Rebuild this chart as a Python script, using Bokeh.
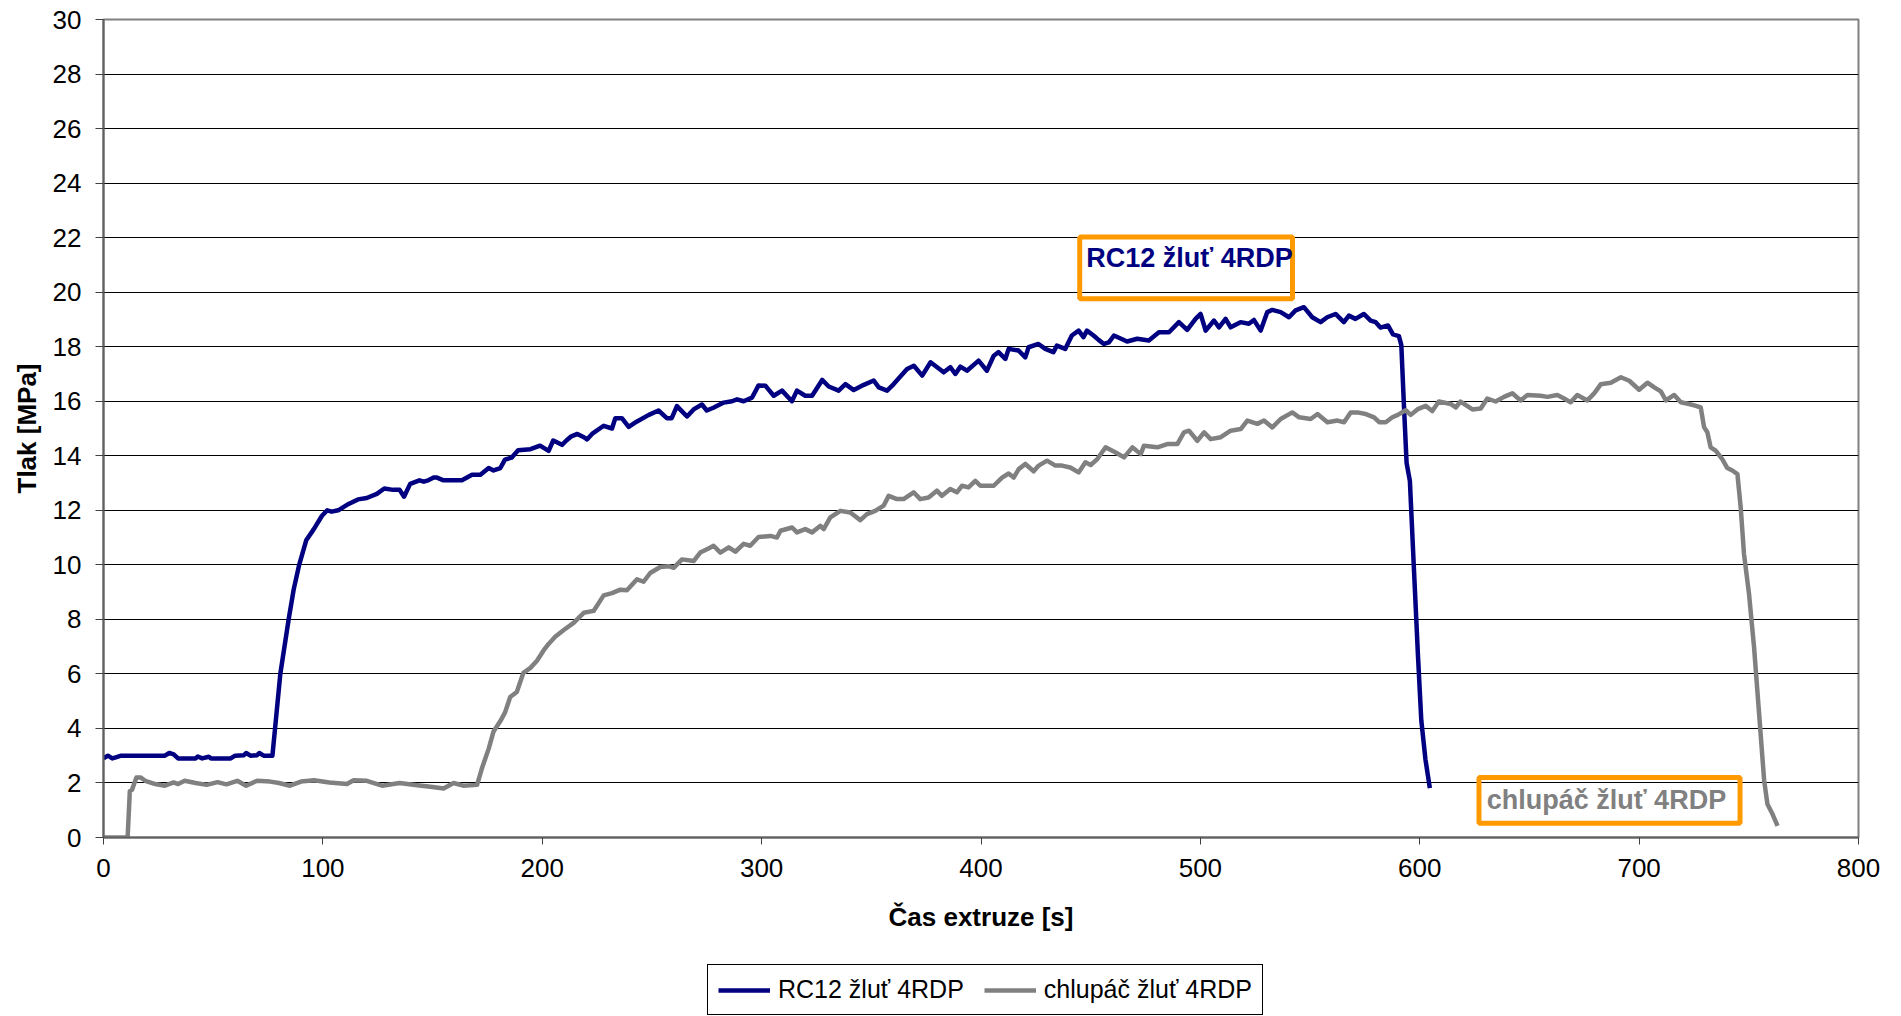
from bokeh.plotting import figure
from bokeh.layouts import column
from bokeh.models import (ColumnDataSource, Legend, LegendItem, BoxAnnotation, Label,
                          FixedTicker, Range1d)
from bokeh.embed import file_html
from bokeh.resources import INLINE

# ---------------- data ----------------
rc12_t = [0, 2, 4, 6, 8, 28, 30, 32, 34, 42, 43, 45, 48, 49, 58, 60, 64, 65, 67, 70, 71, 73, 77,
          80.6, 84.4, 86.7, 89.2, 92.4, 95.8, 99.6, 102, 104, 107, 111, 116, 120, 124.6, 128, 132, 135,
          137, 139.8, 144, 146, 148, 150.5, 152, 155, 163.4, 168, 171.8, 175.6, 177.8, 180.9, 183, 186,
          189, 194.6, 199, 202.9, 205, 209, 211, 213, 216, 219, 220.4, 222.7, 228, 231.8, 233.3, 236.3,
          239.4, 243, 248.6, 253, 256.8, 259, 261.4, 263.7, 266, 269, 272.8, 275, 278, 282.7, 286.5,
          288.8, 291.8, 295.6, 298.6, 301.7, 305.5, 309.3, 313.8, 316.1, 319.9, 323, 327.6, 330.6,
          335.1, 338.2, 342, 346.6, 351.1, 353.4, 357.2, 360.2, 366.3, 369.4, 373.2, 377, 383, 386,
          388.3, 390.6, 393.6, 398.9, 402.7, 405.8, 408, 411.1, 412.6, 417.1, 420.2, 421.7, 426.2,
          429.3, 433, 434.6, 438.4, 441.4, 444.5, 446.7, 448.3, 451.3, 453.6, 456, 458.3, 460.6, 466.6,
          471.2, 476.5, 481.1, 485.7, 490.2, 494, 497.8, 500.1, 502.4, 506.2, 508.5, 511.5, 513.8,
          518.3, 522.1, 524.4, 527.5, 530.5, 532.8, 536.6, 540.4, 543.4, 547.2, 551, 554.8, 557.8,
          561.6, 565.4, 567.7, 570.7, 574.5, 577.6, 579.9, 582.1, 585.5, 587.8, 590.5, 591.6, 592.8,
          594, 595.5, 597.3, 599.2, 600.7, 602.6, 604.6]
rc12_p = [2.9, 3.0, 2.9, 2.95, 3.0, 3.0, 3.1, 3.05, 2.9, 2.9, 2.97, 2.9, 2.96, 2.9, 2.9, 3.0, 3.02, 3.1,
          3.0, 3.02, 3.1, 3.0, 3.0,
          6.0, 8.0, 9.1, 10.0, 10.9, 11.3, 11.8, 12.0, 11.95, 12.0, 12.2, 12.4, 12.45, 12.6, 12.8, 12.75,
          12.75, 12.5, 12.97, 13.1, 13.05, 13.1, 13.2, 13.2, 13.1, 13.1, 13.3, 13.3, 13.55, 13.46, 13.55,
          13.86, 13.93, 14.2, 14.24, 14.37, 14.18, 14.56, 14.4, 14.56, 14.7, 14.8, 14.68, 14.6, 14.8,
          15.1, 15.0, 15.38, 15.38, 15.06, 15.25, 15.5, 15.66, 15.38, 15.38, 15.82, 15.63, 15.44, 15.7,
          15.88, 15.66, 15.76, 15.95, 16.0, 16.07, 16.0, 16.13, 16.58, 16.57, 16.2, 16.39, 16.0, 16.39,
          16.2, 16.2, 16.78, 16.54, 16.39, 16.63, 16.41, 16.6, 16.76, 16.51, 16.39, 16.63, 17.18, 17.3,
          16.94, 17.43, 17.06, 17.25, 17.0, 17.27, 17.12, 17.49, 17.12, 17.67, 17.8, 17.55, 17.92,
          17.86, 17.61, 17.98, 18.1, 17.92, 17.8, 18.04, 17.92, 18.41, 18.59, 18.35, 18.59, 18.41,
          18.25, 18.1, 18.16, 18.41, 18.19, 18.29, 18.23, 18.53, 18.53, 18.9, 18.62, 19.02, 19.2, 18.59,
          18.96, 18.71, 19.02, 18.71, 18.9, 18.84, 18.98, 18.59, 19.27, 19.35, 19.27, 19.08, 19.33,
          19.45, 19.08, 18.9, 19.08, 19.2, 18.9, 19.14, 19.02, 19.2, 18.96, 18.9, 18.7, 18.78, 18.45,
          18.39, 18.06, 15.83, 13.74, 13.08, 9.93, 6.65, 4.3, 2.86, 1.81]

chl_t = [0, 11, 12, 13, 15, 17, 19, 23.6, 28, 32, 34, 37, 42, 47, 52, 56, 61, 65, 70, 76, 80, 85, 90,
         96, 103, 111, 114, 120, 127, 135, 143, 150, 155, 159.6, 164, 170.3, 172.6, 175.6, 177.8,
         180.9, 183, 185.4, 188.4, 191.4, 194.6, 197.6, 200.6, 202.9, 205.9, 209.8, 214.3, 218.9,
         223.4, 228, 231.8, 235.6, 238.6, 243.2, 246.2, 249.2, 253.8, 257.6, 259.9, 263.7, 269, 272,
         275.8, 278.1, 281.2, 285, 288, 291.8, 294.8, 298.6, 304, 307, 308.6, 313.9, 316.1, 319.9,
         323, 326.8, 328.3, 331.3, 335.9, 340.4, 345, 348, 351.8, 355.6, 357.9, 361.7, 364.7, 369.3,
         372.3, 376.1, 379.9, 382.2, 386, 389, 391.3, 394.3, 397.4, 399.7, 405.8, 409.6, 412.6, 414.9,
         417.2, 420.2, 424, 426.3, 430.1, 433.9, 436.9, 440.7, 444.5, 447.6, 450, 453, 456.8, 461.4,
         465.2, 469, 472.8, 474.3, 480.4, 484.9, 489.5, 492.5, 494.8, 498.6, 501.7, 504.7, 509.3,
         513.8, 518.4, 521.4, 526, 529, 532.8, 536.6, 541.9, 545, 550.3, 553.4, 557.9, 562.5, 565.5,
         568.5, 571.6, 575.4, 579.2, 581.5, 584.5, 587.5, 590, 593.6, 595.9, 598.9, 602.7, 605.7,
         608.7, 614.1, 616.4, 618.6, 624, 627.8, 630.8, 634.6, 638.4, 642.2, 646, 649.1, 655.1, 658.2,
         662.7, 665.8, 668.8, 671.8, 676.4, 679.5, 682.5, 687.1, 691.7, 695.5, 700, 703.8, 706.9,
         709.9, 712.2, 716, 719, 722.8, 725.9, 728.1, 729.6, 731.1, 732.6, 734.9, 737.9, 740.2, 742.5,
         744.8, 746.3, 747.8, 750.1, 752.4, 754.7, 757, 758.5, 760.8, 763.1]
chl_p = [0, 0, 1.7, 1.75, 2.2, 2.2, 2.08, 1.96, 1.9, 2.02, 1.96, 2.08, 2.0, 1.93, 2.03, 1.95, 2.08, 1.9,
         2.08, 2.05, 2.0, 1.9, 2.05, 2.1, 2.02, 1.96, 2.1, 2.08, 1.9, 2.0, 1.92, 1.85, 1.8, 2.0, 1.9,
         1.93, 2.56, 3.26, 3.89, 4.27, 4.58, 5.15, 5.34, 6.04, 6.22, 6.48, 6.86, 7.1, 7.36, 7.61, 7.87,
         8.24, 8.31, 8.88, 8.96, 9.09, 9.07, 9.47, 9.38, 9.7, 9.92, 9.95, 9.89, 10.2, 10.14, 10.45,
         10.6, 10.7, 10.45, 10.64, 10.48, 10.77, 10.7, 11.02, 11.06, 11.0, 11.25, 11.37, 11.19, 11.31,
         11.19, 11.43, 11.31, 11.74, 11.98, 11.92, 11.64, 11.86, 11.98, 12.17, 12.53, 12.41, 12.41,
         12.66, 12.41, 12.47, 12.72, 12.53, 12.78, 12.66, 12.9, 12.84, 13.08, 12.9, 12.9, 13.2, 13.35,
         13.2, 13.51, 13.7, 13.43, 13.64, 13.82, 13.64, 13.64, 13.57, 13.39, 13.76, 13.66, 13.88,
         14.31, 14.12, 13.94, 14.31, 14.06, 14.37, 14.31, 14.43, 14.43, 14.86, 14.92, 14.55, 14.86,
         14.61, 14.68, 14.92, 14.98, 15.29, 15.17, 15.29, 15.04, 15.35, 15.59, 15.41, 15.35, 15.53,
         15.23, 15.29, 15.23, 15.59, 15.59, 15.53, 15.41, 15.23, 15.23, 15.41, 15.5, 15.67, 15.5, 15.7,
         15.83, 15.64, 15.99, 15.9, 15.77, 15.99, 15.7, 15.73, 16.1, 15.99, 16.16, 16.29, 16.03, 16.23,
         16.2, 16.16, 16.23, 16.1, 15.96, 16.23, 16.03, 16.29, 16.62, 16.68, 16.88, 16.75, 16.42,
         16.68, 16.51, 16.36, 16.03, 16.23, 15.96, 15.9, 15.83, 15.77, 15.05, 14.86, 14.31, 14.19,
         13.88, 13.55, 13.46, 13.33, 12.11, 10.4, 8.93, 6.97, 4.53, 2.08, 1.22, 0.86, 0.43]

x_ticks = [0, 100, 200, 300, 400, 500, 600, 700, 800]
y_ticks = [0, 2, 4, 6, 8, 10, 12, 14, 16, 18, 20, 22, 24, 26, 28, 30]
series_names = ["RC12 žluť 4RDP", "chlupáč žluť 4RDP"]
x_title = "Čas extruze [s]"
y_title = "Tlak [MPa]"

FONT = "Liberation Sans"
NAVY = "#000080"
GREY = "#808080"
ORANGE = "#FF9900"
W = 1900

p = figure(width=W, height=955, output_backend="svg", toolbar_location=None,
           x_range=Range1d(0, 800), y_range=Range1d(0, 30),
           min_border_left=103, min_border_right=42, min_border_top=19, min_border_bottom=118)
p.background_fill_color = "white"
p.border_fill_color = "white"
p.outline_line_color = GREY
p.outline_line_width = 2

src1 = ColumnDataSource(dict(t=rc12_t, p=rc12_p))
src2 = ColumnDataSource(dict(t=chl_t, p=chl_p))
r1 = p.line("t", "p", source=src1, line_color=NAVY, line_width=4.5, line_join="round")
r2 = p.line("t", "p", source=src2, line_color=GREY, line_width=4.5, line_join="round")

# axes
for ax in (p.xaxis[0], p.yaxis[0]):
    ax.axis_line_color = "#606060"
    ax.axis_line_width = 2
    ax.major_tick_line_color = "#404040"
    ax.major_tick_line_width = 1
    ax.major_tick_in = 0
    ax.minor_tick_line_color = None
    ax.major_label_text_font = FONT
    ax.major_label_text_font_size = "26px"
    ax.major_label_text_color = "black"
    ax.axis_label_text_font = FONT
    ax.axis_label_text_font_size = "26px"
    ax.axis_label_text_font_style = "bold"
    ax.axis_label_text_color = "black"

p.xaxis.ticker = FixedTicker(ticks=x_ticks)
p.yaxis.ticker = FixedTicker(ticks=y_ticks)
p.xaxis.major_tick_out = 7
p.yaxis.major_tick_out = 8
p.xaxis.major_label_standoff = 14
p.yaxis.major_label_standoff = 14
p.xaxis.axis_label = x_title
p.yaxis.axis_label = y_title
p.xaxis.axis_label_standoff = 22
p.yaxis.axis_label_standoff = 8

p.xgrid.grid_line_color = None
p.ygrid.grid_line_color = "black"
p.ygrid.grid_line_width = 1

# annotation boxes
p.add_layout(BoxAnnotation(left=445, right=542, bottom=19.76, top=22.02,
                           fill_color=None, fill_alpha=0, line_color=ORANGE, line_alpha=1,
                           line_width=5))
p.add_layout(Label(x=448, y=21.25, text=series_names[0], text_font=FONT, text_font_size="27px",
                   text_font_style="bold", text_color=NAVY, text_baseline="middle"))
p.add_layout(BoxAnnotation(left=627, right=746, bottom=0.52, top=2.2,
                           fill_color=None, fill_alpha=0, line_color=ORANGE, line_alpha=1,
                           line_width=5))
p.add_layout(Label(x=630.5, y=1.36, text=series_names[1], text_font=FONT, text_font_size="27px",
                   text_font_style="bold", text_color=GREY, text_baseline="middle"))

# legend strip below the chart (its renderers sit outside the visible range)
lg = figure(width=W, height=60, output_backend="svg", toolbar_location=None,
            x_range=Range1d(0, 1), y_range=Range1d(0, 1),
            min_border_left=0, min_border_right=0, min_border_top=0, min_border_bottom=0)
lg.xaxis.visible = False
lg.yaxis.visible = False
lg.grid.visible = False
lg.outline_line_color = None
lg.background_fill_color = "white"
lg.border_fill_color = "white"
g1 = lg.line([-10, -9], [-10, -10], line_color=NAVY, line_width=4.5)
g2 = lg.line([-10, -9], [-10, -10], line_color=GREY, line_width=4.5)

legend = Legend(items=[LegendItem(label=series_names[0], renderers=[g1]),
                       LegendItem(label=series_names[1], renderers=[g2])],
                orientation="horizontal", location=(604, 0))
legend.label_text_font = FONT
legend.label_text_font_size = "25px"
legend.label_text_color = "black"
legend.glyph_width = 52
legend.label_standoff = 8
legend.spacing = 20
legend.padding = 10
legend.margin = 0
legend.border_line_color = "black"
legend.border_line_width = 1
legend.border_line_alpha = 1
legend.background_fill_color = "white"
legend.background_fill_alpha = 1
lg.add_layout(legend)

layout = column(p, lg, spacing=0)
open("out.html", "w").write(file_html(layout, INLINE))
